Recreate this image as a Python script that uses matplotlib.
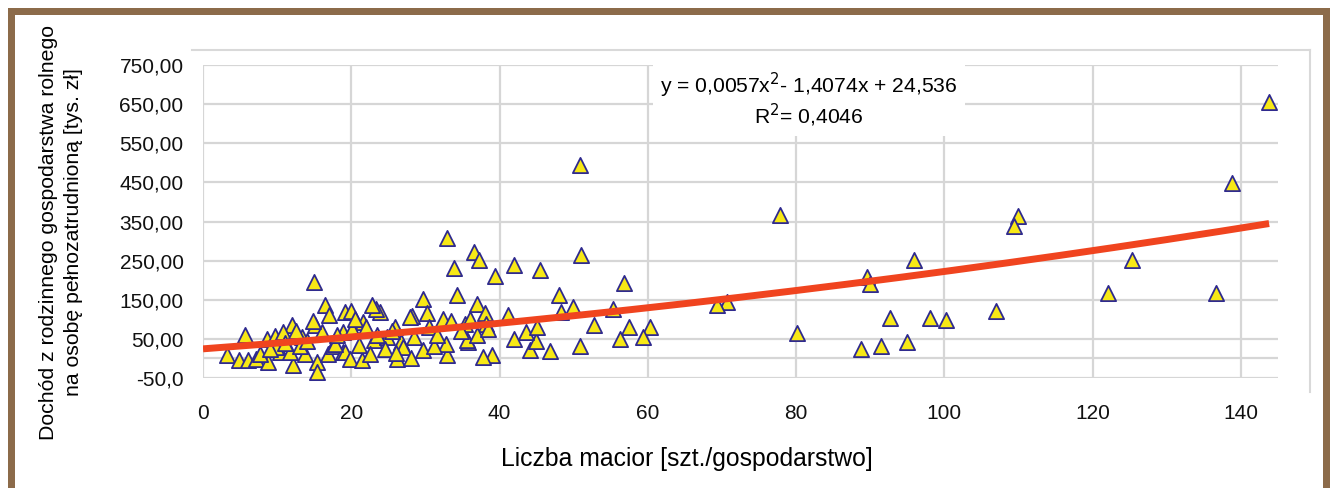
import matplotlib
matplotlib.use("Agg")
import matplotlib.pyplot as plt
import numpy as np
from matplotlib.lines import Line2D
from matplotlib.patches import Rectangle

plt.rcParams['font.family'] = ['Liberation Sans', 'DejaVu Sans']

# ---- data ----
sows = [143.8, 138.8, 136.6, 125.3, 122.1, 109.9, 109.4, 106.9, 100.2, 98.0, 95.9, 95.0,
        92.7, 91.4, 89.6, 90.0, 88.7, 80.1, 77.8, 70.7, 69.3,
        50.8, 51.0, 32.9, 36.6, 37.2, 33.8, 39.4, 42.0, 45.4, 56.8, 34.3, 48.0, 29.7, 36.9,
        38.1, 41.1, 55.3, 49.9, 48.3, 52.7, 57.4, 60.3, 56.3, 59.4, 50.8, 46.8, 44.1, 44.9,
        43.5, 42.0, 45.0, 39.0, 37.8, 32.9, 32.8, 29.7, 26.1, 26.7, 28.2, 30.2, 32.4, 35.8,
        35.4, 38.2, 31.1, 25.9, 23.9,
        15.0, 16.5, 19.2, 12.0, 15.1, 5.7, 8.6, 9.7, 10.8, 13.3, 16.0, 18.9, 3.2, 4.8, 6.1,
        7.2, 8.8, 10.4, 12.2, 11.7, 13.8, 15.4, 15.4, 16.9, 17.6, 18.9, 13.1, 9.9, 7.7,
        23.3, 27.9, 21.6, 20.1, 23.0, 24.8, 19.2, 19.8, 21.4, 22.5, 35.6, 17.8, 18.1,
        22.8, 20.0, 14.8, 17.0, 20.5, 21.0, 22.0, 23.5, 24.5, 25.5, 27.0, 28.5, 30.5, 31.5,
        33.5, 34.8, 36.0, 37.0, 38.5, 11.0, 12.5, 14.0, 9.0, 26.0, 28.0]
income = [656, 449, 167, 251, 167, 364, 338, 120, 97, 103, 251, 41,
          103, 31, 208, 190, 23, 64, 367, 144, 136,
          495, 264, 309, 273, 251, 232, 210, 238, 227, 194, 162, 162, 153, 140,
          117, 110, 127, 132, 119, 85, 80, 80, 50, 55, 31, 18, 21, 44,
          67, 49, 80, 8, 3, 10, 38, 21, -1, 42, 108, 115, 102, 42,
          89, 89, 33, 80, 119,
          196, 136, 119, 85, 85, 59, 50, 57, 67, 55, 67, 67, 8, -5, -5,
          -1, -9, 16, -18, 16, 12, -9, -35, 12, 33, 16, 33, 29, 12,
          127, 106, 93, 76, 46, 55, 16, -1, -5, 12, 46, 38, 59,
          136, 120, 95, 110, 100, 35, 80, 60, 25, 70, 30, 55, 80, 60,
          95, 70, 100, 60, 75, 40, 70, 45, 25, 15, 0]

trend_coef = [0.0057, 1.4074, 24.536]   # quadratic trend (a, b, c)
x_ticks = [0, 20, 40, 60, 80, 100, 120, 140]
y_ticks = [-50, 0, 50, 150, 250, 350, 450, 550, 650, 750]
y_tick_labels = ["-50,0", "", "50,00", "150,00", "250,00", "350,00", "450,00",
                 "550,00", "650,00", "750,00"]
eq_text = "y = 0,0057x$^{2}$- 1,4074x + 24,536\nR$^{2}$= 0,4046"

W, H = 1330, 488
fig = plt.figure(figsize=(W / 100, H / 100), dpi=100)
fig.patch.set_facecolor('white')

def fx(px):
    return px / W

def fy(py):
    return 1 - py / H

ax = fig.add_axes([fx(203), fy(378), fx(1278) - fx(203), fy(65) - fy(378)])
ax.set_xlim(0, 145)
ax.set_ylim(-50, 750)
ax.set_xticks(x_ticks)
ax.set_yticks(y_ticks)
ax.set_yticklabels(y_tick_labels)
ax.tick_params(length=0, labelsize=15, colors='#111111')
ax.tick_params(axis='x', pad=19)
ax.tick_params(axis='y', pad=14)
for s in ax.spines.values():
    s.set_visible(False)
ax.grid(True, color='#D6D6D6', linewidth=1.6)
ax.set_axisbelow(True)

ax.scatter(sows, income, marker='^', s=120, facecolor='#F7E816',
           edgecolor='#2F2A8E', linewidths=1.3, zorder=3, clip_on=False)

xs = np.linspace(0, max(sows), 200)
a, b, c = trend_coef
ax.plot(xs, a * xs**2 + b * xs + c, color='#F0441F', linewidth=5,
        solid_capstyle='butt', zorder=4)

# equation box
fig.text(fx(809), fy(100), eq_text, ha='center', va='center', fontsize=15.2,
         linespacing=1.1,
         bbox=dict(facecolor='white', edgecolor='none', pad=5))

# axis labels
fig.text(fx(61), fy(232), "Dochód z rodzinnego gospodarstwa rolnego\nna osobę pełnozatrudnioną [tys. zł]",
         rotation=90, ha='center', va='center', fontsize=15.3, linespacing=1.45)
fig.text(fx(687), fy(459), "Liczba macior [szt./gospodarstwo]",
         ha='center', va='center', fontsize=17.8)

# chart-area frame (top and right)
frame_c = '#D9D9D9'
fig.add_artist(Line2D([fx(192), fx(1310)], [fy(50), fy(50)], color=frame_c, lw=1.5))
fig.add_artist(Line2D([fx(1310), fx(1310)], [fy(50), fy(392)], color=frame_c, lw=1.5))

# brown border
brown = '#8C6B4A'
fig.add_artist(Rectangle((fx(8), 0), fx(7), fy(8), transform=fig.transFigure,
                         facecolor=brown, edgecolor='none'))
fig.add_artist(Rectangle((fx(8), fy(15)), 1 - fx(8), fy(8) - fy(15), transform=fig.transFigure,
                         facecolor=brown, edgecolor='none'))
fig.add_artist(Rectangle((fx(1323), 0), fx(7), fy(8), transform=fig.transFigure,
                         facecolor=brown, edgecolor='none'))

fig.savefig("out.png", dpi=100, facecolor='white')
